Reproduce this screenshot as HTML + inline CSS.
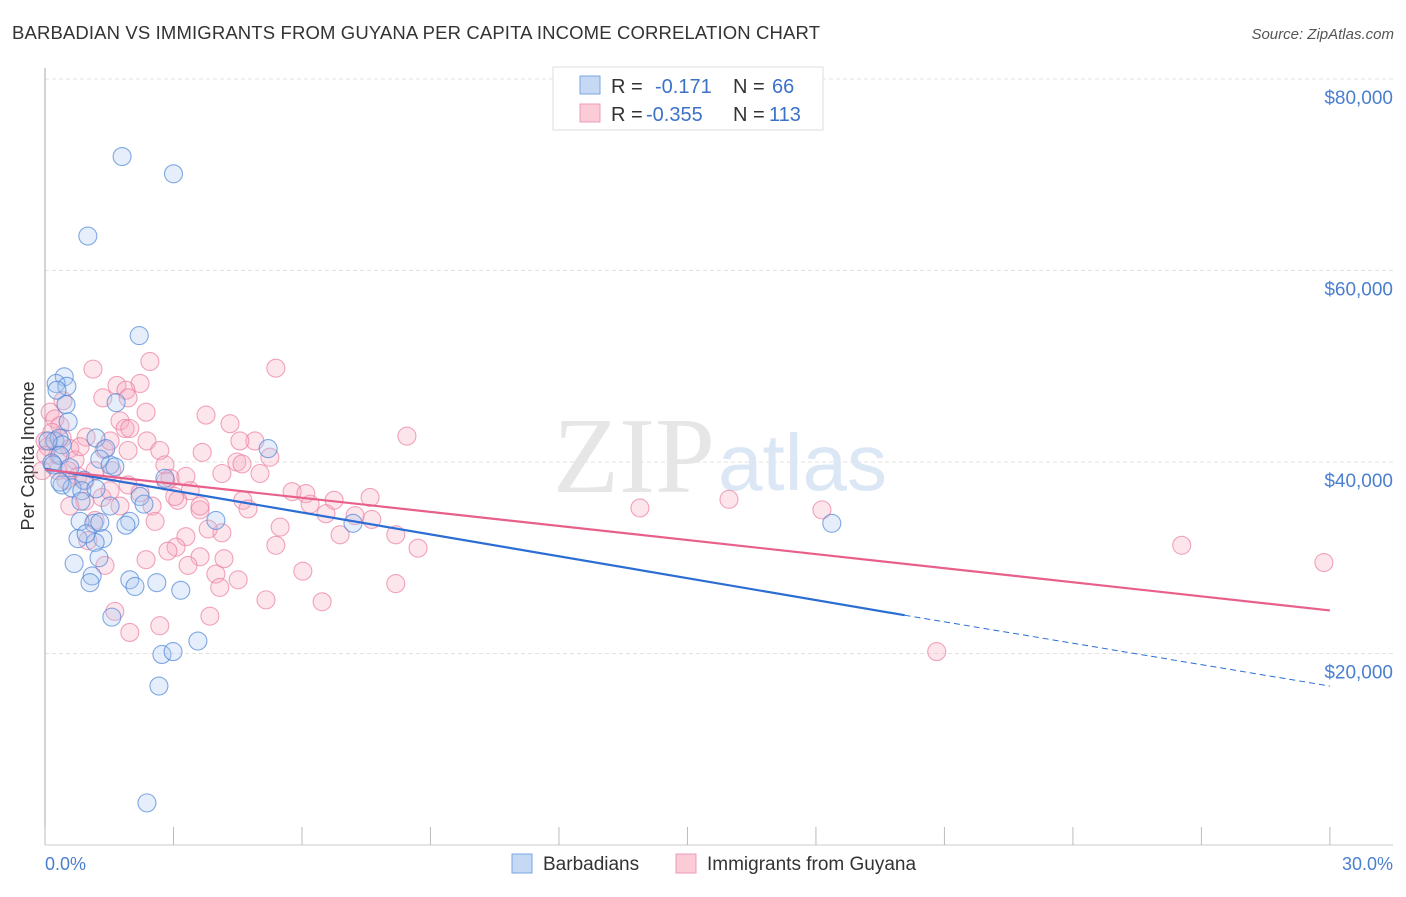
<!DOCTYPE html>
<html><head><meta charset="utf-8"><style>
body{margin:0;background:#fff;font-family:"Liberation Sans",sans-serif;}
</style></head><body>
<svg width="1406" height="892" xmlns="http://www.w3.org/2000/svg">
<text x="12" y="39" font-size="18.5" fill="#333" textLength="808">BARBADIAN VS IMMIGRANTS FROM GUYANA PER CAPITA INCOME CORRELATION CHART</text>
<text x="1394" y="39" font-size="15" fill="#555" font-style="italic" text-anchor="end">Source: ZipAtlas.com</text>
<g id="grid"></g>
<line x1="45" y1="68" x2="45" y2="845" stroke="#aaa"/>
<line x1="45" y1="845" x2="1393" y2="845" stroke="#ccc"/>
<g id="xticks"></g>
<text x="553" y="492" font-size="108" fill="#e6e6e6" font-family="Liberation Serif">ZIP</text>
<text x="718" y="490" font-size="80" fill="#dbe7f5">atlas</text>
<g id="ylabels"></g>
<text transform="translate(34,456) rotate(-90)" font-size="18" fill="#333" text-anchor="middle">Per Capita Income</text>
<text x="45" y="870" font-size="18" fill="#4a7fd0">0.0%</text>
<text x="1393" y="870" font-size="18" fill="#4a7fd0" text-anchor="end">30.0%</text>
<g id="pink"></g>
<g id="blue"></g>
<g id="trends"></g>
<g>
<rect x="553" y="67" width="270" height="63" fill="#fff" stroke="#ddd"/>
<rect x="580" y="76" width="20" height="18" fill="#c5d9f5" stroke="#7ba5e0"/>
<rect x="580" y="104" width="20" height="18" fill="#fbcbd8" stroke="#ee9db5"/>
<text x="611" y="93" font-size="20" fill="#333">R = <tspan x="655" fill="#3d72c9">-0.171</tspan><tspan x="733">N = </tspan><tspan x="772" fill="#3d72c9">66</tspan></text>
<text x="611" y="121" font-size="20" fill="#333">R = <tspan x="646" fill="#3d72c9">-0.355</tspan><tspan x="733">N = </tspan><tspan x="769" fill="#3d72c9">113</tspan></text>
</g>
<g>
<rect x="512" y="854" width="20" height="19" fill="#c5d9f5" stroke="#7ba5e0"/>
<text x="543" y="870" font-size="19" fill="#333">Barbadians</text>
<rect x="676" y="854" width="20" height="19" fill="#fbcbd8" stroke="#ee9db5"/>
<text x="707" y="870" font-size="19" fill="#333">Immigrants from Guyana</text>
</g>
</svg>
<script>
const yTicks=[20000,40000,60000,80000];
const yTickLabels=["$20,000","$40,000","$60,000","$80,000"];
const xTicks=[0,3,6,9,12,15,18,21,24,27,30];
const blueX=[1.8,3.0,1.0,2.2,0.45,0.26,0.51,0.28,1.66,0.54,0.23,0.33,1.19,0.4,1.42,0.35,0.16,1.28,1.52,1.63,5.21,0.19,0.58,0.91,2.8,0.4,0.63,0.86,2.22,0.84,1.52,2.31,0.82,1.98,1.89,1.14,0.77,1.35,1.17,1.26,0.68,1.1,1.05,1.98,2.1,2.61,3.17,1.56,2.73,2.99,3.57,2.66,2.38,3.99,7.19,18.37,0.49,0.07,0.35,1.19,1.28,0.96];
const blueY=[71.9,70.1,63.6,53.2,48.9,48.2,47.9,47.5,46.2,44.2,42.2,42.5,42.5,41.8,41.4,40.7,39.9,40.3,39.7,39.5,41.4,39.7,39.4,38.1,38.3,37.6,37.3,37.0,36.4,35.9,35.4,35.6,33.8,33.8,33.4,33.6,32.0,32.0,31.6,30.0,29.4,28.1,27.4,27.7,27.0,27.4,26.6,23.8,19.9,20.2,21.3,16.6,4.4,33.9,33.6,33.6,46.0,42.2,37.9,37.2,33.7,32.5];
const pinkX=[0.12,0.23,0.35,0.16,0.4,0.07,0.58,0.3,0.7,0.54,0.77,0.93,1.12,2.45,5.39,1.68,2.22,1.89,1.35,1.94,2.36,3.76,1.75,0.96,1.87,2.38,1.38,1.94,2.68,3.67,4.9,5.25,4.48,4.6,4.13,5.02,1.56,2.8,2.92,3.29,1.94,2.22,3.39,3.1,3.62,4.62,4.74,5.77,6.09,6.19,6.75,7.59,6.56,7.24,7.63,5.49,8.19,4.13,3.81,3.29,3.06,2.87,3.62,2.36,8.71,5.39,6.02,3.34,4.18,3.99,4.51,4.08,5.16,6.47,8.19,3.85,2.68,1.98,1.63,1.33,1.17,1.0,1.4,8.45,13.89,15.97,18.14,26.54,29.86,20.82,0.30,0.49,1.52,1.75,2.5,2.57,0.93,0.58,1.17,1.52,0,0.02,-0.07,0.82,0.42,1.98,3.03,3.62,4.32,6.89,4.55,2.82];
const pinkY=[45.2,44.5,43.8,43.1,42.5,41.6,41.4,40.7,40.2,39.1,38.5,38.0,49.7,50.5,49.8,48.0,48.2,47.5,46.7,46.7,45.2,44.9,44.3,42.6,43.5,42.2,41.3,41.2,41.2,41.0,42.2,40.5,40.0,39.8,38.8,38.8,39.1,39.7,38.3,38.5,37.6,36.8,37.0,36.0,35.0,36.0,35.1,36.9,36.7,35.6,36.0,36.3,34.6,34.4,34.0,33.2,32.4,32.6,33.0,32.2,31.1,30.7,30.1,29.8,31.0,31.3,28.6,29.2,29.9,28.3,27.7,26.9,25.6,25.4,27.3,23.9,22.9,22.2,24.4,36.3,33.9,31.8,29.2,42.7,35.2,36.1,35.0,31.3,29.5,20.2,39.1,38.1,37.0,35.4,35.4,33.8,35.9,35.4,39.1,42.2,42.2,40.7,39.1,41.6,46.4,43.5,36.4,35.4,44.0,32.4,42.2,38.0];
const S="http://www.w3.org/2000/svg";
const X=v=>45+v*42.83, Y=v=>845-v*0.009575;
function mk(t,a){const e=document.createElementNS(S,t);for(const k in a)e.setAttribute(k,a[k]);return e;}
const grid=document.getElementById('grid'),yl=document.getElementById('ylabels');
yTicks.forEach((t,i)=>{
 const l=mk('line',{x1:45,x2:1393,y1:Y(t),y2:Y(t),stroke:'#e2e2e2','stroke-dasharray':'4,3'});
 
 
 grid.appendChild(l);
 const tx=mk('text',{x:1393,y:Y(t)+25,'font-size':19,fill:'#4a7fd0','text-anchor':'end'});
 tx.textContent=yTickLabels[i];
 
 
 yl.appendChild(tx);
});
const xt=document.getElementById('xticks');
xTicks.forEach(t=>{
 const l=mk('line',{x1:X(t),x2:X(t),y1:827,y2:845,stroke:'#bbb'});
 
 
 xt.appendChild(l);
});
function pts(id,xs,ys,f,s,name){
 const g=document.getElementById(id);
 xs.forEach((x,i)=>{
  const c=mk('circle',{cx:X(x),cy:Y(ys[i]*1000),r:9,fill:f,'fill-opacity':0.3,stroke:s,'stroke-width':1.1,'stroke-opacity':0.7});
  
  
  g.appendChild(c);
 });
}
pts('pink',pinkX,pinkY,'#f7a8c0','#eb7fa0','guyana-point');
pts('blue',blueX,blueY,'#a9c8f0','#4d86d8','barbadian-point');
const tr=document.getElementById('trends');
const blueTrend=[[0,39300],[20.07,24000],[30,16600]];
const pinkTrend=[[0,39200],[30,24500]];
let a=mk('line',{x1:X(blueTrend[0][0]),y1:Y(blueTrend[0][1]),x2:X(blueTrend[1][0]),y2:Y(blueTrend[1][1]),stroke:'#2b6dd3','stroke-width':2.2});


tr.appendChild(a);
a=mk('line',{x1:X(blueTrend[1][0]),y1:Y(blueTrend[1][1]),x2:X(blueTrend[2][0]),y2:Y(blueTrend[2][1]),stroke:'#2b6dd3','stroke-width':1,'stroke-dasharray':'6,4'});


tr.appendChild(a);
a=mk('line',{x1:X(pinkTrend[0][0]),y1:Y(pinkTrend[0][1]),x2:X(pinkTrend[1][0]),y2:Y(pinkTrend[1][1]),stroke:'#e8608a','stroke-width':2.2});


tr.appendChild(a);
</script>
</body></html>
